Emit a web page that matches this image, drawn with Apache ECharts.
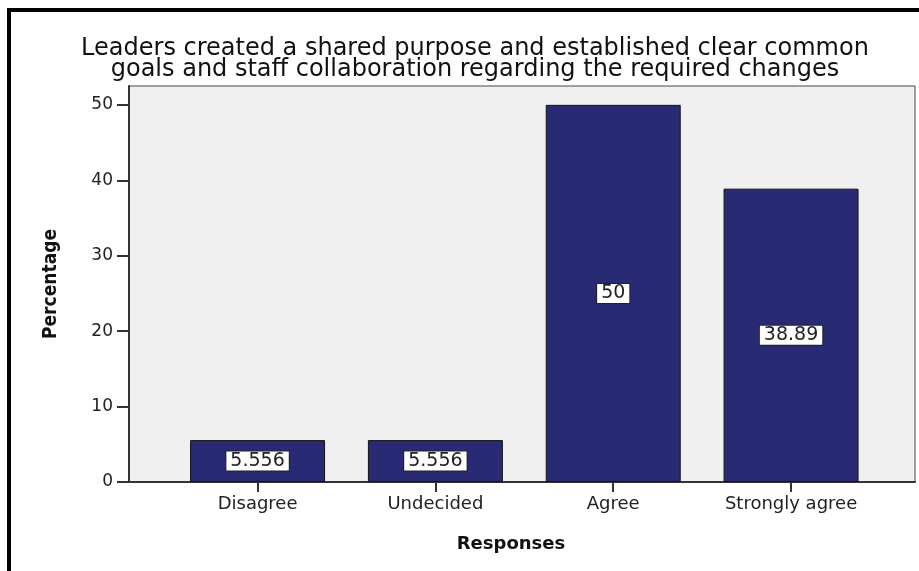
<!DOCTYPE html>
<html>
<head>
<meta charset="utf-8">
<script src="https://cdn.jsdelivr.net/npm/echarts@6/dist/echarts.min.js"></script>
<style>
  html, body { margin: 0; padding: 0; background: #ffffff; }
  #chart { width: 919px; height: 571px; }
</style>
</head>
<body>
<div id="chart"></div>
<script>
// ---- data ----
const titleText = "Leaders created a shared purpose and established clear common\ngoals and staff collaboration regarding the required changes";
const categories = ["Disagree", "Undecided", "Agree", "Strongly agree"];
const percentages = [5.556, 5.556, 50, 38.89];
const valueLabels = ["5.556", "5.556", "50", "38.89"];
const yTicks = [0, 10, 20, 30, 40, 50];
const xName = "Responses";
const yName = "Percentage";

const categoryPositions = categories.map((c, i) => i + 1);
const barData = categories.map((c, i) => [categoryPositions[i], percentages[i]]);

const chart = echarts.init(document.getElementById('chart'), null, { renderer: 'canvas' });

const option = {
  backgroundColor: '#ffffff',
  animation: false,
  title: {
    text: titleText,
    left: 470,
    top: 33,
    textAlign: 'center',
    textStyle: {
      fontFamily: 'DejaVu Sans',
      fontSize: 24,
      fontWeight: 'normal',
      color: '#111111',
      lineHeight: 21
    }
  },
  graphic: [
    { type: 'line', shape: { x1: 9, y1: 8, x2: 9, y2: 571 }, style: { stroke: '#000', lineWidth: 4 } },
    { type: 'line', shape: { x1: 7, y1: 10, x2: 919, y2: 10 }, style: { stroke: '#000', lineWidth: 4 } }
  ],
  grid: {
    left: 129,
    right: 4,
    top: 86,
    bottom: 89,
    show: true,
    backgroundColor: '#f0f0f0',
    borderColor: '#444444',
    borderWidth: 1
  },
  xAxis: {
    type: 'value',
    min: 0.277,
    max: 4.697,
    name: xName,
    nameLocation: 'middle',
    nameGap: 53,
    nameTextStyle: {
      fontFamily: 'DejaVu Sans',
      fontWeight: 'bold',
      fontSize: 18,
      color: '#111111',
      padding: [0, 22, 0, 0]
    },
    axisLine: { show: true, lineStyle: { color: '#333333', width: 2 } },
    axisTick: { show: true, customValues: categoryPositions, length: 10, lineStyle: { color: '#333333', width: 2 } },
    axisLabel: {
      customValues: categoryPositions,
      formatter: v => categories[Math.round(v) - 1] || '',
      margin: 13,
      fontFamily: 'DejaVu Sans',
      fontSize: 18,
      color: '#222222'
    },
    splitLine: { show: false }
  },
  yAxis: {
    type: 'value',
    min: 0,
    max: 52.5,
    interval: 10,
    name: yName,
    nameLocation: 'middle',
    nameGap: 68,
    nameRotate: 90,
    nameTextStyle: {
      fontFamily: '"Liberation Sans Narrow", "DejaVu Sans Condensed", "DejaVu Sans"',
      fontWeight: 'bold',
      fontSize: 19,
      color: '#111111'
    },
    axisLine: { show: true, lineStyle: { color: '#333333', width: 2 } },
    axisTick: { show: true, customValues: yTicks, length: 12, lineStyle: { color: '#333333', width: 2 } },
    axisLabel: {
      customValues: yTicks,
      margin: 16,
      fontFamily: 'DejaVu Sans',
      fontSize: 17,
      color: '#222222'
    },
    splitLine: { show: false }
  },
  series: [{
    type: 'bar',
    data: barData,
    barWidth: 135,
    itemStyle: {
      color: '#282a73',
      borderColor: '#151515',
      borderWidth: 1
    },
    label: {
      show: true,
      position: 'inside',
      formatter: p => valueLabels[p.dataIndex],
      fontFamily: 'DejaVu Sans',
      fontSize: 19,
      color: '#222222',
      backgroundColor: '#ffffff',
      borderColor: '#222222',
      borderWidth: 1,
      padding: [1, 4, 0, 4],
      lineHeight: 18
    }
  }]
};

chart.setOption(option);
</script>
</body>
</html>
